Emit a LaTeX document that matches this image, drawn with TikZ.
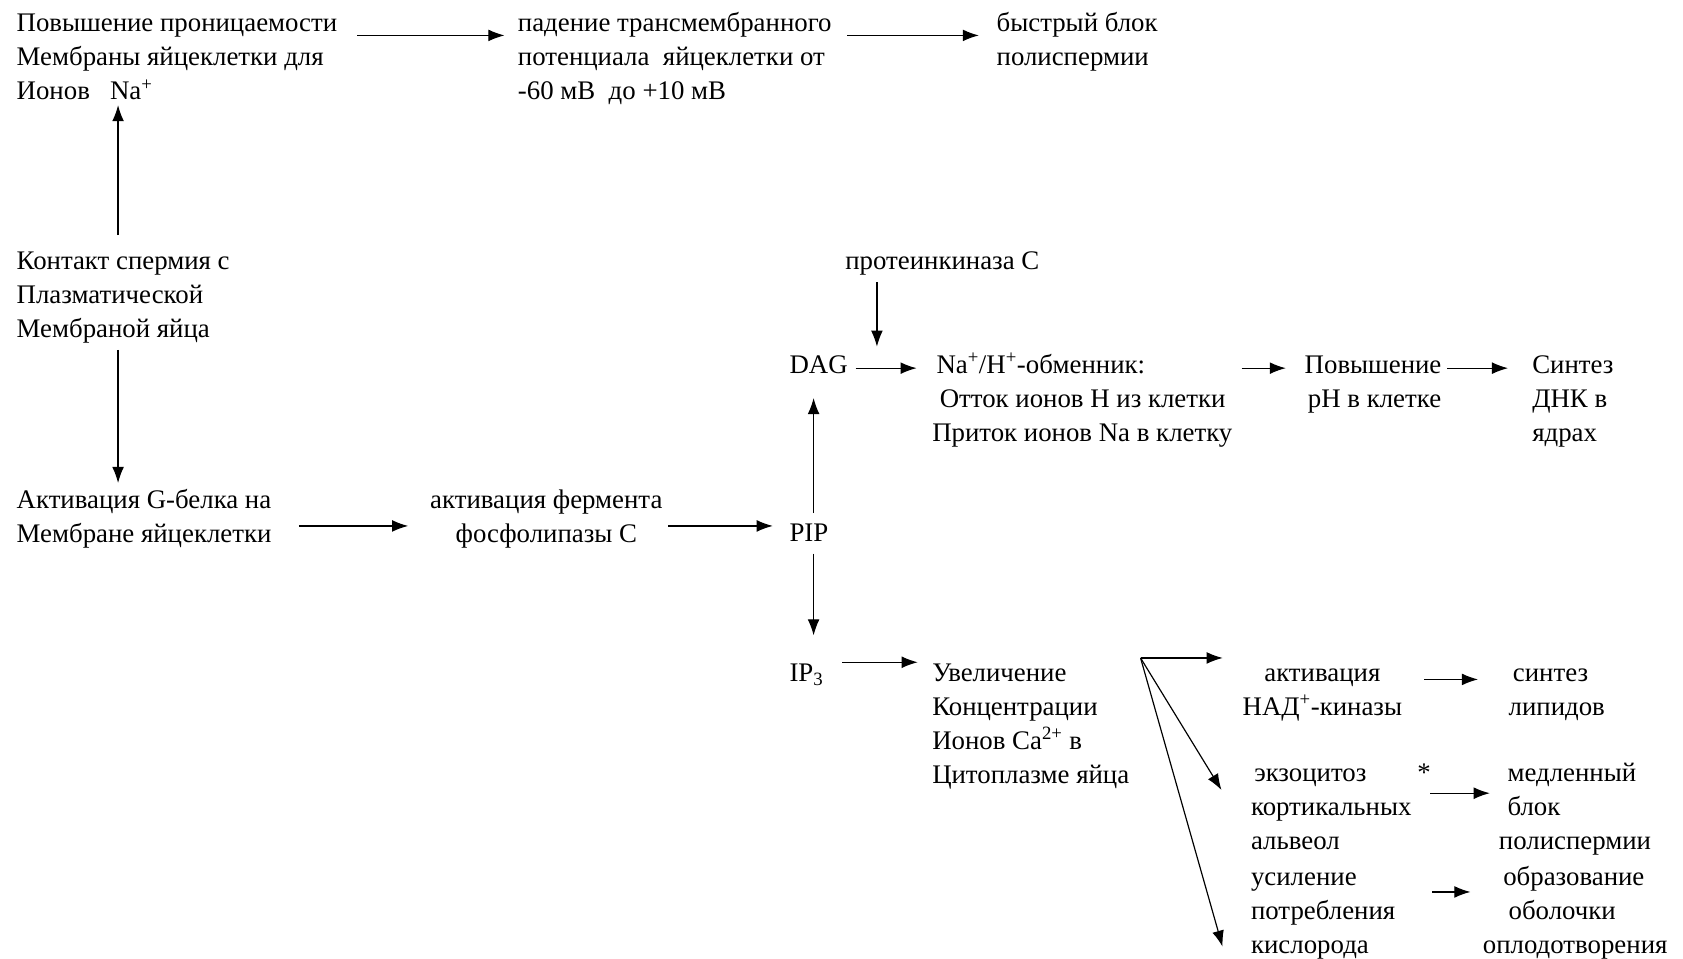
\documentclass[tikz,border=0pt]{standalone}
\usepackage{fontspec}
\setmainfont{Liberation Serif}
\usetikzlibrary{arrows.meta,calc}
\newcommand{\sz}{\fontsize{25}{31.7}\selectfont}
\tikzset{
  txt/.style={inner sep=0pt,anchor=north west,align=left,font=\sz},
  ctxt/.style={txt,anchor=north,align=center}
}
\begin{document}
\begin{tikzpicture}[x=1pt,y=-1pt,>={Latex[length=15pt,width=11pt]},line width=1.1pt]
\useasboundingbox (0,0) rectangle (1568,893);
% верхний ряд
\node[txt] (pov) at (15,7) {\strut Повышение проницаемости\\Мембраны яйцеклетки для\\Ионов\ \ \ Na\textsuperscript{+}};
\node[txt] (pad) at (482,7) {\strut падение трансмембранного\\потенциала\ \ яйцеклетки от\\-60 мВ\ \ до +10 мВ};
\node[txt] (blok) at (928,7) {\strut быстрый блок\\полиспермии};
% левый столбец
\node[txt] (kont) at (15,228) {\strut Контакт спермия с\\Плазматической\\Мембраной яйца};
\node[txt] (gbel) at (15,451) {\strut Активация G-белка на\\Мембране яйцеклетки};
\node[ctxt] (ferm) at (509,451) {\strut активация фермента\\фосфолипазы С};
\node[txt] (pip) at (735,482) {\strut PIP};
\node[txt] (dag) at (735,325) {\strut DAG};
\node[txt] (ip3) at (735,612) {\strut IP\textsubscript{3}};
% ветка DAG
\node[txt] (pkc) at (787,228) {\strut протеинкиназа С};
\node[txt] (exch) at (868,325) {\strut\hspace*{4pt}Na\textsuperscript{+}/H\textsuperscript{+}-обменник:\\\hspace*{7pt}Отток ионов Н из клетки\\Приток ионов Na в клетку};
\node[txt] (povph) at (1215,325) {\strut Повышение\\\hspace*{3pt}pH в клетке};
\node[txt] (sint) at (1427,325) {\strut Синтез\\ДНК в\\ядрах};
% ветка IP3
\node[txt] (uvel) at (868,612) {\strut Увеличение\\Концентрации\\Ионов Ca\textsuperscript{2+} в\\Цитоплазме яйца};
\node[ctxt] (nad) at (1232,612) {\strut активация\\НАД\textsuperscript{+}-киназы};
\node[txt] (lip) at (1405,612) {\strut\hspace*{4pt}синтез\\липидов};
\node[txt] (exo) at (1165,705) {\strut\hspace*{3pt}экзоцитоз\\кортикальных\\альвеол};
\node[txt] (star) at (1320,705) {\strut *};
\node[txt] (slow) at (1396,705) {\strut\hspace*{8pt}медленный\\\hspace*{8pt}блок\\полиспермии};
\node[txt] (oxy) at (1165,802) {\strut усиление\\потребления\\кислорода};
\node[txt] (obol) at (1381,802) {\strut\hspace*{19pt}образование\\\hspace*{24pt}оболочки\\оплодотворения};
% стрелки
\draw[->] ($(pov.north east)+(18,26)$) -- ($(pad.north west)+(-12,26)$);
\draw[->] ($(pad.north east)+(14,26)$) -- ($(blok.north west)+(-16,26)$);
\draw[->] ($(kont.north west)+(95,-9)$) -- ($(pov.south west)+(95,4)$);
\draw[->] ($(kont.south west)+(95,6)$) -- ($(gbel.north west)+(95,-1)$);
\draw[->] ($(gbel.north east)+(25,39)$) -- ($(ferm.north west)+(-20,39)$);
\draw[->] ($(ferm.north east)+(5,39)$) -- ($(pip.north west)+(-15,8)$);
\draw[->] ($(pip.north west)+(23,-4)$) -- ($(dag.south west)+(23,13)$);
\draw[->] ($(pip.south west)+(23,1)$) -- ($(ip3.north west)+(23,-20)$);
\coordinate (dagin) at ($(dag.north west)+(82,-2)$);
\draw[->] ($(pkc.south west)+(30,2)$) -- (dagin);
\draw[->] ($(dag.north east)+(7,18)$) -- ($(exch.north west)+(-14,18)$);
\draw[->] ($(exch.north east)+(8,18)$) -- ($(povph.north west)+(-17,18)$);
\draw[->] ($(povph.north east)+(5,18)$) -- ($(sint.north west)+(-22,18)$);
\draw[->] ($(ip3.north east)+(17,5)$) -- ($(uvel.north west)+(-13,5)$);
\coordinate (fork) at ($(uvel.north east)+(10,1)$);
\draw[->] (fork) -- ($(nad.north west)+(-18,1)$);
\draw[->] (fork) -- ($(exo.north west)+(-27,31)$);
\draw[->] (fork) -- ($(oxy.north west)+(-26,80)$);
\draw[->] ($(nad.north east)+(20,21)$) -- ($(lip.north west)+(-28,21)$);
\draw[->] ($(exo.north east)+(17,34)$) -- ($(slow.north west)+(-8,34)$);
\draw[->] ($(oxy.north east)+(34,29)$) -- ($(obol.north west)+(-11,29)$);
\end{tikzpicture}
\end{document}
